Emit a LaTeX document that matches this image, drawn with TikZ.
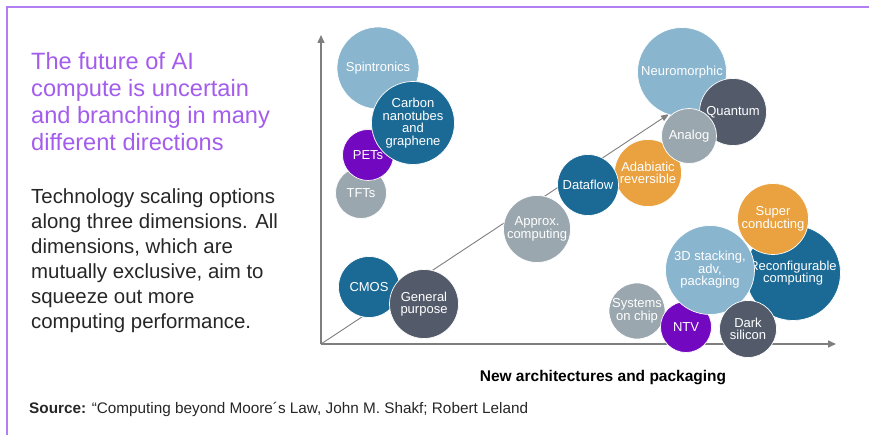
\documentclass[tikz,border=0pt]{standalone}
\usepackage{fontspec}
\setmainfont{Liberation Sans}
\usetikzlibrary{arrows.meta}

\definecolor{framepurple}{HTML}{B27EF2}
\definecolor{titlepurple}{HTML}{A35CEC}
\definecolor{axisgray}{HTML}{7E7E7E}
\definecolor{cLightBlue}{HTML}{8AB5CF}
\definecolor{cTeal}{HTML}{1B6A95}
\definecolor{cPurple}{HTML}{7208C0}
\definecolor{cGray}{HTML}{9BA7AF}
\definecolor{cSlate}{HTML}{535B6B}
\definecolor{cOrange}{HTML}{E9A23F}

\tikzset{
  bubble/.style={circle, draw=white, line width=0.7pt, text=white,
    align=center, inner sep=0pt,
    font=\fontsize{13}{12.6}\selectfont},
  axisline/.style={draw=axisgray, line width=1.4pt,
    -{Triangle[length=8pt,width=7pt]}},
  diagline/.style={draw=axisgray, line width=0.9pt,
    -{Triangle[length=8pt,width=6pt]}},
}

\begin{document}
\begin{tikzpicture}[x=1pt,y=-1pt]
\useasboundingbox (0,0) rectangle (869,435);

% page frame
\draw[framepurple, line width=1.4pt] (7,435) -- (7,7) -- (869,7);

% headline and description
\node[anchor=north west, inner sep=0pt, align=left, text=titlepurple,
      font=\fontsize{23.6}{27}\selectfont] (title) at (31,52)
  {The future of AI\\compute is uncertain\\and branching in many\\different directions};
\node[anchor=north west, inner sep=0pt, align=left, text=black!85,
      font=\fontsize{20.4}{25}\selectfont] (desc) at (31,189)
  {Technology scaling options\\along three dimensions. All\\dimensions, which are\\mutually exclusive, aim to\\squeeze out more\\computing performance.};

% axes
\coordinate (O) at (321,344);
\coordinate (ytip) at (321,35);
\coordinate (xtip) at (836,344);
\coordinate (dtip) at (669,114);
\draw[diagline] (O) -- (dtip);
\draw[axisline] (O) -- (ytip);
\draw[axisline] (O) -- (xtip);

% bubbles: new devices (upper left)
\node[bubble, fill=cLightBlue, minimum size=82pt] (spin) at (378,68) {Spintronics};
\node[bubble, fill=cGray, minimum size=51pt] (tft) at (361,193) {TFTs};
\node[bubble, fill=cPurple, minimum size=51pt] (pet) at (368,155) {PETs};
\node[bubble, fill=cTeal, minimum size=83pt] (cnt) at (413,123) {Carbon\\nanotubes\\and\\graphene};

% bubbles: along the diagonal
\node[bubble, fill=cTeal, minimum size=61pt] (cmos) at (369,287) {CMOS};
\node[bubble, fill=cSlate, minimum size=69pt] (gp) at (424,304) {General\\purpose};
\node[bubble, fill=cGray, minimum size=67pt] (approx) at (537,229) {Approx.\\computing};
\node[bubble, fill=cOrange, minimum size=67pt] (adia) at (648,173) {Adabiatic\\reversible};
\node[bubble, fill=cTeal, minimum size=61pt] (dflow) at (588,185) {Dataflow};
\node[bubble, fill=cLightBlue, minimum size=89pt] (neuro) at (682,72) {Neuromorphic};
\node[bubble, fill=cSlate, minimum size=67pt] (quant) at (733,112) {Quantum};
\node[bubble, fill=cGray, minimum size=55pt] (analog) at (689,136) {Analog};

% bubbles: architectures and packaging (lower right)
\node[bubble, fill=cTeal, minimum size=95pt] (reconf) at (793,273) {Reconfigurable\\computing};
\node[bubble, fill=cOrange, minimum size=71pt] (super) at (773,219) {Super\\conducting};
\node[bubble, fill=cGray, minimum size=56pt] (soc) at (637,311) {Systems\\on chip};
\node[bubble, fill=cPurple, minimum size=51pt] (ntv) at (686,327) {NTV};
\node[bubble, fill=cLightBlue, minimum size=89pt] (stack) at (710,270) {3D stacking,\\adv,\\packaging};
\node[bubble, fill=cSlate, minimum size=57pt] (dark) at (748,329) {Dark\\silicon};

% axis caption and source line
\node[font=\bfseries\fontsize{15.5}{18}\selectfont, inner sep=0pt, anchor=base] (xlabel) at (603,381)
  {New architectures and packaging};
\node[font=\fontsize{15.3}{17}\selectfont, inner sep=0pt, anchor=base west, text=black!85] (source) at (29,413)
  {\textbf{Source:} “Computing beyond Moore´s Law, John M. Shakf; Robert Leland};
\end{tikzpicture}
\end{document}
